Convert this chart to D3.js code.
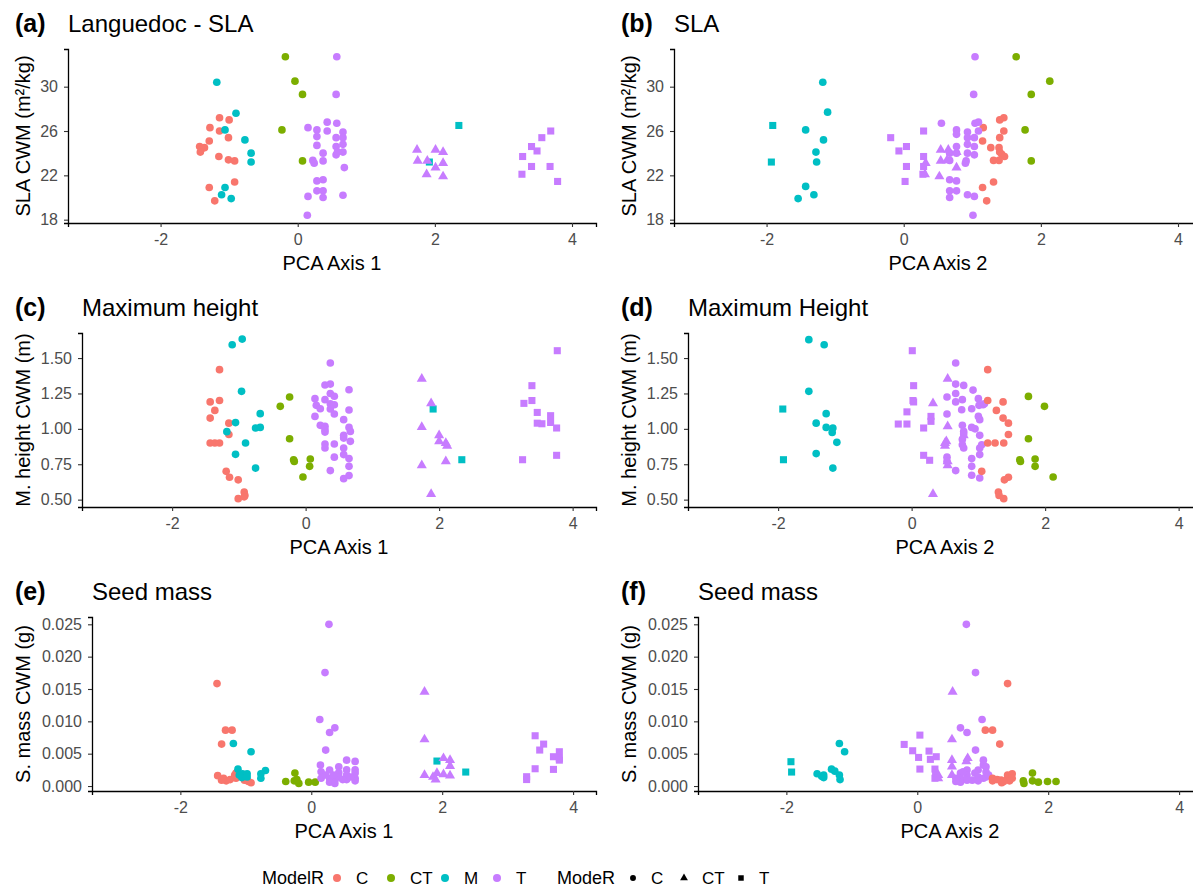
<!DOCTYPE html>
<html><head><meta charset="utf-8">
<script src="https://cdn.jsdelivr.net/npm/d3@7"></script>
<style>body{margin:0;background:#fff} svg{display:block} text{font-family:"Liberation Sans",Arial,sans-serif}</style>
</head><body><svg id="c" width="1193" height="892"></svg>
<script>
const modelRCats = ["C","CT","M","T"];
const modeRCats = ["C","CT","T"];
const xTicks = [-2,0,2,4];
const slaTicks = [18,22,26,30];
const htTicks = [0.50,0.75,1.00,1.25,1.50];
const smTicks = [0.000,0.005,0.010,0.015,0.020,0.025];

// [PCA value, trait value, ModelR, ModeR]
const slaPc1 = [
[-1.14,27.2,"C","C"],[-1.0,27.0,"C","C"],[-1.28,26.3,"C","C"],[-1.14,26.0,"C","C"],[-1.01,25.4,"C","C"],[-1.29,25.1,"C","C"],[-1.43,24.6,"C","C"],[-1.40,24.4,"C","C"],[-1.36,24.5,"C","C"],[-1.42,24.1,"C","C"],[-1.15,23.7,"C","C"],[-1.01,23.4,"C","C"],[-0.92,23.3,"C","C"],[-1.29,20.9,"C","C"],[-0.92,21.4,"C","C"],[-1.21,19.7,"C","C"],
[-1.18,30.4,"M","C"],[-1.06,26.1,"M","C"],[-0.90,27.6,"M","C"],[-0.77,25.2,"M","C"],[-0.68,24.0,"M","C"],[-0.68,23.2,"M","C"],[-1.06,20.9,"M","C"],[-1.11,20.25,"M","C"],[-0.97,19.9,"M","C"],
[1.92,23.2,"M","T"],[2.35,26.5,"M","T"],
[-0.18,32.7,"CT","C"],[-0.04,30.5,"CT","C"],[0.07,29.3,"CT","C"],[-0.23,26.1,"CT","C"],[0.07,23.3,"CT","C"],
[0.57,32.7,"T","C"],[0.56,29.3,"T","C"],[0.15,26.3,"T","C"],[0.43,26.8,"T","C"],[0.57,26.7,"T","C"],[0.28,26.1,"T","C"],[0.28,25.5,"T","C"],[0.43,26.0,"T","C"],[0.66,25.9,"T","C"],[0.56,25.4,"T","C"],[0.66,25.4,"T","C"],[0.28,24.7,"T","C"],[0.56,24.6,"T","C"],[0.66,24.8,"T","C"],[0.37,24.0,"T","C"],[0.56,23.85,"T","C"],[0.66,24.1,"T","C"],[0.58,24.1,"T","C"],[0.22,23.35,"T","C"],[0.37,23.3,"T","C"],[0.24,23.1,"T","C"],[0.68,22.7,"T","C"],[0.28,21.5,"T","C"],[0.37,21.6,"T","C"],[0.28,20.6,"T","C"],[0.37,20.6,"T","C"],[0.15,20.1,"T","C"],[0.37,20.0,"T","C"],[0.66,20.2,"T","C"],[0.14,18.4,"T","C"],
[1.74,24.3,"T","CT"],[2.01,24.3,"T","CT"],[2.12,24.1,"T","CT"],[1.75,23.3,"T","CT"],[1.89,23.3,"T","CT"],[2.12,23.1,"T","CT"],[2.01,22.7,"T","CT"],[1.88,22.1,"T","CT"],[2.12,21.9,"T","CT"],
[3.69,26.0,"T","T"],[3.56,25.4,"T","T"],[3.41,24.6,"T","T"],[3.49,24.2,"T","T"],[3.28,23.7,"T","T"],[3.41,22.8,"T","T"],[3.68,22.8,"T","T"],[3.27,22.1,"T","T"],[3.79,21.45,"T","T"]
];

const slaPc2 = [
[-1.91,26.5,"M","T"],[-1.93,23.2,"M","T"],
[-1.18,30.4,"M","C"],[-1.11,27.7,"M","C"],[-1.43,26.1,"M","C"],[-1.17,25.2,"M","C"],[-1.28,24.1,"M","C"],[-1.27,23.2,"M","C"],[-1.43,21.0,"M","C"],[-1.31,20.25,"M","C"],[-1.54,19.9,"M","C"],
[1.64,32.7,"CT","C"],[2.13,30.5,"CT","C"],[1.86,29.3,"CT","C"],[1.77,26.1,"CT","C"],[1.86,23.3,"CT","C"],
[1.46,27.2,"C","C"],[1.40,27.0,"C","C"],[1.16,26.3,"C","C"],[1.46,26.0,"C","C"],[1.40,25.4,"C","C"],[1.15,25.1,"C","C"],[1.27,24.5,"C","C"],[1.39,24.5,"C","C"],[1.40,24.1,"C","C"],[1.43,23.9,"C","C"],[1.47,23.7,"C","C"],[1.31,23.35,"C","C"],[1.39,23.35,"C","C"],[1.31,21.4,"C","C"],[1.15,20.9,"C","C"],[1.21,19.7,"C","C"],
[1.04,32.7,"T","C"],[1.02,29.3,"T","C"],[0.55,26.7,"T","C"],[1.04,26.7,"T","C"],[1.09,26.8,"T","C"],[0.77,26.1,"T","C"],[0.77,25.7,"T","C"],[0.93,25.9,"T","C"],[1.09,26.0,"T","C"],[1.03,25.4,"T","C"],[0.93,25.4,"T","C"],[0.77,24.6,"T","C"],[0.93,24.8,"T","C"],[1.03,24.6,"T","C"],[0.77,24.0,"T","C"],[0.67,24.0,"T","C"],[0.93,24.0,"T","C"],[1.03,23.85,"T","C"],[0.67,23.35,"T","C"],[0.91,23.3,"T","C"],[0.90,23.1,"T","C"],[0.67,21.6,"T","C"],[0.77,21.5,"T","C"],[0.67,20.6,"T","C"],[0.77,20.6,"T","C"],[0.67,20.0,"T","C"],[0.93,20.25,"T","C"],[1.03,20.1,"T","C"],[1.01,18.4,"T","C"],
[0.54,24.3,"T","CT"],[0.65,24.3,"T","CT"],[0.77,24.1,"T","CT"],[0.54,23.3,"T","CT"],[0.63,23.35,"T","CT"],[0.32,23.1,"T","CT"],[0.77,22.7,"T","CT"],[0.31,22.1,"T","CT"],[0.52,21.9,"T","CT"],
[0.29,26.0,"T","T"],[-0.19,25.4,"T","T"],[0.04,24.6,"T","T"],[-0.07,24.2,"T","T"],[0.29,23.7,"T","T"],[0.04,22.8,"T","T"],[0.29,22.8,"T","T"],[0.28,22.1,"T","T"],[0.02,21.45,"T","T"]
];

const htPc1 = [
[-1.29,1.418,"C","C"],[-1.43,1.19,"C","C"],[-1.29,1.20,"C","C"],[-1.36,1.13,"C","C"],[-1.43,1.076,"C","C"],[-1.15,1.04,"C","C"],[-1.15,0.96,"C","C"],[-1.43,0.90,"C","C"],[-1.36,0.90,"C","C"],[-1.29,0.90,"C","C"],[-1.19,0.70,"C","C"],[-1.14,0.658,"C","C"],[-1.01,0.64,"C","C"],[-0.92,0.554,"C","C"],[-0.91,0.53,"C","C"],[-1.01,0.507,"C","C"],[-0.92,0.52,"C","C"],
[-0.95,1.634,"M","C"],[-1.10,1.594,"M","C"],[-0.96,1.265,"M","C"],[-0.68,1.107,"M","C"],[-1.05,1.044,"M","C"],[-1.18,0.98,"M","C"],[-0.75,1.006,"M","C"],[-0.68,1.01,"M","C"],[-0.90,0.90,"M","C"],[-1.05,0.82,"M","C"],[-0.75,0.723,"M","C"],
[1.91,1.14,"M","T"],[2.34,0.782,"M","T"],
[-0.24,1.225,"CT","C"],[-0.38,1.159,"CT","C"],[-0.24,0.93,"CT","C"],[-0.18,0.782,"CT","C"],[-0.17,0.77,"CT","C"],[0.07,0.787,"CT","C"],[0.06,0.735,"CT","C"],[-0.04,0.66,"CT","C"],
[0.37,1.465,"T","C"],[0.29,1.31,"T","C"],[0.37,1.316,"T","C"],[0.65,1.276,"T","C"],[0.14,1.213,"T","C"],[0.29,1.206,"T","C"],[0.37,1.25,"T","C"],[0.43,1.23,"T","C"],[0.16,1.166,"T","C"],[0.22,1.142,"T","C"],[0.37,1.177,"T","C"],[0.43,1.17,"T","C"],[0.37,1.14,"T","C"],[0.65,1.133,"T","C"],[0.14,1.088,"T","C"],[0.43,1.105,"T","C"],[0.57,1.065,"T","C"],[0.22,1.025,"T","C"],[0.29,1.018,"T","C"],[0.65,1.01,"T","C"],[0.29,0.994,"T","C"],[0.67,0.982,"T","C"],[0.29,0.977,"T","C"],[0.57,0.954,"T","C"],[0.57,0.935,"T","C"],[0.67,0.912,"T","C"],[0.29,0.893,"T","C"],[0.43,0.893,"T","C"],[0.29,0.865,"T","C"],[0.57,0.865,"T","C"],[0.57,0.818,"T","C"],[0.43,0.80,"T","C"],[0.65,0.79,"T","C"],[0.65,0.735,"T","C"],[0.37,0.705,"T","C"],[0.65,0.67,"T","C"],[0.57,0.648,"T","C"],
[1.74,1.354,"T","CT"],[1.88,1.18,"T","CT"],[1.74,1.013,"T","CT"],[2.00,0.954,"T","CT"],[2.00,0.912,"T","CT"],[2.10,0.90,"T","CT"],[2.12,0.88,"T","CT"],[2.10,0.77,"T","CT"],[1.74,0.742,"T","CT"],[1.88,0.54,"T","CT"],
[3.77,1.552,"T","T"],[3.39,1.305,"T","T"],[3.39,1.20,"T","T"],[3.27,1.18,"T","T"],[3.47,1.116,"T","T"],[3.47,1.04,"T","T"],[3.54,1.036,"T","T"],[3.67,1.093,"T","T"],[3.67,1.045,"T","T"],[3.76,1.006,"T","T"],[3.25,0.782,"T","T"],[3.76,0.813,"T","T"]
];

const htPc2 = [
[-1.93,1.14,"M","T"],[-1.92,0.782,"M","T"],
[-1.54,1.63,"M","C"],[-1.31,1.594,"M","C"],[-1.54,1.265,"M","C"],[-1.28,1.107,"M","C"],[-1.43,1.04,"M","C"],[-1.28,1.01,"M","C"],[-1.18,1.006,"M","C"],[-1.19,0.975,"M","C"],[-1.12,0.905,"M","C"],[-1.43,0.825,"M","C"],[-1.18,0.723,"M","C"],
[0.01,1.552,"T","T"],[0.03,1.305,"T","T"],[0.02,1.20,"T","T"],[0.03,1.19,"T","T"],[-0.07,1.12,"T","T"],[-0.20,1.034,"T","T"],[-0.07,1.034,"T","T"],[0.18,1.006,"T","T"],[0.29,1.088,"T","T"],[0.29,1.053,"T","T"],[0.18,0.813,"T","T"],[0.27,0.778,"T","T"],
[0.54,1.354,"T","CT"],[0.32,1.18,"T","CT"],[0.54,1.018,"T","CT"],[0.78,0.954,"T","CT"],[0.52,0.912,"T","CT"],[0.50,0.90,"T","CT"],[0.50,0.88,"T","CT"],[0.54,0.77,"T","CT"],[0.54,0.742,"T","CT"],[0.32,0.54,"T","CT"],
[0.66,1.465,"T","C"],[0.66,1.316,"T","C"],[0.78,1.307,"T","C"],[0.92,1.274,"T","C"],[0.53,1.225,"T","C"],[0.66,1.25,"T","C"],[0.76,1.206,"T","C"],[0.66,1.19,"T","C"],[1.0,1.213,"T","C"],[1.07,1.17,"T","C"],[1.01,1.166,"T","C"],[1.09,1.177,"T","C"],[0.90,1.142,"T","C"],[0.75,1.135,"T","C"],[0.53,1.105,"T","C"],[1.0,1.088,"T","C"],[1.02,1.065,"T","C"],[0.76,1.025,"T","C"],[0.90,1.01,"T","C"],[0.95,1.0,"T","C"],[0.78,0.982,"T","C"],[0.78,0.964,"T","C"],[1.02,0.954,"T","C"],[0.76,0.924,"T","C"],[0.76,0.888,"T","C"],[1.05,0.888,"T","C"],[0.78,0.865,"T","C"],[1.02,0.865,"T","C"],[0.53,0.80,"T","C"],[0.90,0.79,"T","C"],[1.02,0.818,"T","C"],[0.53,0.77,"T","C"],[0.90,0.735,"T","C"],[0.66,0.705,"T","C"],[0.90,0.672,"T","C"],[1.02,0.653,"T","C"],
[1.14,1.418,"C","C"],[1.37,1.19,"C","C"],[1.14,1.20,"C","C"],[1.27,1.13,"C","C"],[1.37,1.076,"C","C"],[1.45,1.04,"C","C"],[1.45,0.96,"C","C"],[1.14,0.90,"C","C"],[1.25,0.90,"C","C"],[1.38,0.90,"C","C"],[1.05,0.70,"C","C"],[1.39,0.64,"C","C"],[1.45,0.658,"C","C"],[1.30,0.554,"C","C"],[1.31,0.53,"C","C"],[1.38,0.507,"C","C"],
[1.75,1.229,"CT","C"],[1.99,1.159,"CT","C"],[1.75,0.93,"CT","C"],[1.62,0.782,"CT","C"],[1.63,0.77,"CT","C"],[1.85,0.787,"CT","C"],[1.85,0.735,"CT","C"],[2.12,0.66,"CT","C"]
];

const smPc1 = [
[-1.44,0.01584,"C","C"],[-1.31,0.00864,"C","C"],[-1.21,0.00864,"C","C"],[-1.37,0.00648,"C","C"],[-1.43,0.0016,"C","C"],[-1.34,0.0012,"C","C"],[-1.30,0.0008,"C","C"],[-1.37,0.0009,"C","C"],[-1.15,0.0020,"C","C"],[-1.15,0.0012,"C","C"],[-1.02,0.0009,"C","C"],[-0.96,0.0007,"C","C"],[-0.92,0.0005,"C","C"],[-1.05,0.0013,"C","C"],[-1.24,0.0010,"C","C"],[-1.17,0.0017,"C","C"],
[-1.19,0.00658,"M","C"],[-0.92,0.0053,"M","C"],[-1.12,0.0026,"M","C"],[-1.05,0.0019,"M","C"],[-0.98,0.0019,"M","C"],[-1.06,0.0013,"M","C"],[-0.77,0.0019,"M","C"],[-0.70,0.0024,"M","C"],[-0.77,0.0012,"M","C"],[-0.98,0.0014,"M","C"],[-1.10,0.0017,"M","C"],
[1.92,0.00386,"M","T"],[2.36,0.00216,"M","T"],
[-0.39,0.0007,"CT","C"],[-0.25,0.0020,"CT","C"],[-0.26,0.0008,"CT","C"],[-0.19,0.0004,"CT","C"],[-0.04,0.0006,"CT","C"],[0.06,0.0006,"CT","C"],[-0.22,0.0010,"CT","C"],
[0.27,0.025,"T","C"],[0.21,0.01754,"T","C"],[0.13,0.01029,"T","C"],[0.36,0.0090,"T","C"],[0.28,0.00828,"T","C"],[0.22,0.00556,"T","C"],[0.14,0.00324,"T","C"],[0.15,0.00221,"T","C"],[0.28,0.00247,"T","C"],[0.42,0.00298,"T","C"],[0.42,0.00206,"T","C"],[0.54,0.0040,"T","C"],[0.67,0.0038,"T","C"],[0.28,0.0012,"T","C"],[0.36,0.0009,"T","C"],[0.28,0.0006,"T","C"],[0.36,0.0004,"T","C"],[0.54,0.0025,"T","C"],[0.54,0.0017,"T","C"],[0.54,0.0010,"T","C"],[0.67,0.0025,"T","C"],[0.67,0.0020,"T","C"],[0.67,0.0012,"T","C"],[0.67,0.0008,"T","C"],[0.60,0.0014,"T","C"],[0.42,0.0014,"T","C"],[0.48,0.0010,"T","C"],[0.15,0.0012,"T","C"],[0.22,0.0017,"T","C"],[0.34,0.0017,"T","C"],
[1.73,0.01456,"T","CT"],[1.73,0.0072,"T","CT"],[1.73,0.0017,"T","CT"],[1.86,0.0014,"T","CT"],[1.92,0.0020,"T","CT"],[1.90,0.0010,"T","CT"],[2.02,0.0018,"T","CT"],[2.02,0.0043,"T","CT"],[2.12,0.0040,"T","CT"],[2.12,0.0031,"T","CT"],[2.12,0.0016,"T","CT"],
[3.42,0.00777,"T","T"],[3.55,0.00648,"T","T"],[3.49,0.00556,"T","T"],[3.79,0.0053,"T","T"],[3.79,0.00427,"T","T"],[3.70,0.00453,"T","T"],[3.42,0.00267,"T","T"],[3.70,0.00257,"T","T"],[3.29,0.00144,"T","T"],[3.29,0.0010,"T","T"],[3.79,0.0040,"T","T"]
];

const smPc2 = [
[-1.93,0.00376,"M","T"],[-1.92,0.00216,"M","T"],
[-1.19,0.00658,"M","C"],[-1.11,0.0053,"M","C"],[-1.53,0.0019,"M","C"],[-1.43,0.0017,"M","C"],[-1.43,0.0013,"M","C"],[-1.31,0.0026,"M","C"],[-1.26,0.0023,"M","C"],[-1.19,0.0017,"M","C"],[-1.18,0.0010,"M","C"],[-1.46,0.0015,"M","C"],
[0.04,0.00787,"T","T"],[-0.20,0.00643,"T","T"],[-0.07,0.00545,"T","T"],[0.02,0.00442,"T","T"],[0.04,0.00262,"T","T"],[0.18,0.0054,"T","T"],[0.20,0.00412,"T","T"],[0.29,0.00453,"T","T"],[0.27,0.00262,"T","T"],[0.28,0.0017,"T","T"],[0.27,0.0012,"T","T"],
[0.54,0.01456,"T","CT"],[0.53,0.0072,"T","CT"],[0.53,0.0040,"T","CT"],[0.53,0.0030,"T","CT"],[0.77,0.0043,"T","CT"],[0.75,0.0038,"T","CT"],[0.53,0.0017,"T","CT"],[0.32,0.0017,"T","CT"],[0.32,0.0012,"T","CT"],
[0.75,0.025,"T","C"],[0.89,0.01754,"T","C"],[0.99,0.01029,"T","C"],[0.66,0.0090,"T","C"],[0.76,0.00828,"T","C"],[0.89,0.00556,"T","C"],[1.01,0.0040,"T","C"],[1.01,0.00324,"T","C"],[0.93,0.00247,"T","C"],[1.05,0.00298,"T","C"],[0.76,0.00247,"T","C"],[0.66,0.0020,"T","C"],[0.76,0.0017,"T","C"],[0.66,0.0012,"T","C"],[0.66,0.0006,"T","C"],[0.76,0.0009,"T","C"],[0.88,0.0020,"T","C"],[0.93,0.0014,"T","C"],[0.93,0.0008,"T","C"],[1.01,0.0012,"T","C"],[1.05,0.0022,"T","C"],[1.05,0.0014,"T","C"],[1.09,0.0017,"T","C"],[0.84,0.0009,"T","C"],[0.59,0.0012,"T","C"],[0.59,0.0007,"T","C"],[0.70,0.0022,"T","C"],
[1.38,0.01584,"C","C"],[1.04,0.00864,"C","C"],[1.15,0.00864,"C","C"],[1.26,0.00648,"C","C"],[1.15,0.0012,"C","C"],[1.15,0.0008,"C","C"],[1.29,0.0005,"C","C"],[1.28,0.0009,"C","C"],[1.38,0.0012,"C","C"],[1.38,0.0017,"C","C"],[1.45,0.0019,"C","C"],[1.45,0.0012,"C","C"],[1.41,0.0008,"C","C"],[1.22,0.0010,"C","C"],[1.32,0.0007,"C","C"],
[1.62,0.0008,"CT","C"],[1.63,0.0004,"CT","C"],[1.76,0.0020,"CT","C"],[1.76,0.0008,"CT","C"],[1.85,0.0006,"CT","C"],[1.99,0.0007,"CT","C"],[2.12,0.0007,"CT","C"]
];

const colorScale = d3.scaleOrdinal().domain(modelRCats).range(["#F8766D","#7CAE00","#00BFC4","#C77CFF"]);
const shapeScale = d3.scaleOrdinal().domain(modeRCats).range([d3.symbolCircle, d3.symbolTriangle, d3.symbolSquare]);
const sizeScale = d3.scaleOrdinal().domain(modeRCats).range([46, 44, 50]);

const svg = d3.select("#c");
const FONT = '"Liberation Sans",Arial,sans-serif';
const hyphenFmt = f => (d => f(d).replace("\u2212","-"));

const panels = [
 {data:slaPc1, tag:"(a)", title:"Languedoc - SLA", ylab:"SLA CWM (m\u00B2/kg)", xlab:"PCA Axis 1", yd:[17.7,33.4], yt:slaTicks, fmt:d3.format("d"), x0:68, top:49, bottom:223, col:0},
 {data:slaPc2, tag:"(b)", title:"SLA", ylab:"SLA CWM (m\u00B2/kg)", xlab:"PCA Axis 2", yd:[17.7,33.4], yt:slaTicks, fmt:d3.format("d"), x0:674, top:49, bottom:223, col:1},
 {data:htPc1, tag:"(c)", title:"Maximum height", ylab:"M. height CWM (m)", xlab:"PCA Axis 1", yd:[0.448,1.677], yt:htTicks, fmt:d3.format(".2f"), x0:82, top:333, bottom:507, col:0},
 {data:htPc2, tag:"(d)", title:"Maximum Height", ylab:"M. height CWM (m)", xlab:"PCA Axis 2", yd:[0.448,1.677], yt:htTicks, fmt:d3.format(".2f"), x0:688, top:333, bottom:507, col:1},
 {data:smPc1, tag:"(e)", title:"Seed mass", ylab:"S. mass CWM (g)", xlab:"PCA Axis 1", yd:[-0.00077,0.02613], yt:smTicks, fmt:d3.format(".3f"), x0:92, top:617, bottom:791, col:0},
 {data:smPc2, tag:"(f)", title:"Seed mass", ylab:"S. mass CWM (g)", xlab:"PCA Axis 2", yd:[-0.00077,0.02613], yt:smTicks, fmt:d3.format(".3f"), x0:698, top:617, bottom:791, col:1}
];

panels.forEach(p => {
  const colOff = p.col * 606;
  const x1 = 596 + colOff;
  const x = d3.scaleLinear().domain([-3.35, 4.35]).range([p.x0, x1]);
  const y = d3.scaleLinear().domain(p.yd).range([p.bottom, p.top]);
  const g = svg.append("g");

  g.selectAll("path.pt").data(p.data).join("path")
    .attr("class","pt")
    .attr("transform", d => `translate(${x(d[0])},${y(d[1])})`)
    .attr("d", d => d3.symbol().type(shapeScale(d[3])).size(sizeScale(d[3]))())
    .attr("fill", d => colorScale(d[2]));

  const xa = g.append("g").attr("transform", `translate(0,${p.bottom})`)
    .call(d3.axisBottom(x).tickValues(xTicks).tickFormat(hyphenFmt(d3.format("d"))).tickSizeOuter(0).tickSize(4).tickPadding(7));
  const ya = g.append("g").attr("transform", `translate(${p.x0},0)`)
    .call(d3.axisLeft(y).tickValues(p.yt).tickFormat(p.fmt).tickSizeOuter(0).tickSize(4).tickPadding(6));
  [xa, ya].forEach(a => {
    a.select(".domain").attr("stroke","#000").attr("stroke-width",1.3);
    a.selectAll(".tick line").attr("stroke","#333").attr("stroke-width",1.1);
    a.selectAll(".tick text").attr("fill","#4D4D4D").style("font-size","16px").style("font-family",FONT);
  });

  g.append("text").attr("x",(p.x0+x1)/2).attr("y",p.bottom+47).attr("text-anchor","middle")
    .style("font-size","20px").attr("fill","#000").text(p.xlab);
  const ylx = 23 + colOff;
  g.append("text").attr("transform",`translate(${ylx},${(p.top+p.bottom)/2}) rotate(-90)`)
    .attr("text-anchor","middle").attr("dy","0.35em").style("font-size","20px").attr("fill","#000").text(p.ylab);

  g.append("text").attr("x",15+colOff).attr("y",p.top-17).style("font-size","25px").style("font-weight","bold").attr("fill","#000").text(p.tag);
  g.append("text").attr("x",p.x0).attr("y",p.top-17).style("font-size","24px").attr("fill","#000").text(p.title);
});

// legend
const lg = svg.append("g");
const ly = 878;
lg.append("text").attr("x",262).attr("y",ly).attr("dy","0.35em").style("font-size","18px").text("ModelR");
const colX = [337, 391, 445, 497];
modelRCats.forEach((c,i) => {
  lg.append("circle").attr("cx",colX[i]).attr("cy",ly).attr("r",4).attr("fill",colorScale(c));
  lg.append("text").attr("x",colX[i]+19).attr("y",ly).attr("dy","0.35em").style("font-size","17px").attr("fill","#000").text(c);
});
lg.append("text").attr("x",557).attr("y",ly).attr("dy","0.35em").style("font-size","18px").text("ModeR");
const shpX = [633, 684, 741];
modeRCats.forEach((c,i) => {
  lg.append("path").attr("transform",`translate(${shpX[i]},${ly})`)
    .attr("d", d3.symbol().type(shapeScale(c)).size(sizeScale(c)*0.6)()).attr("fill","#000");
  lg.append("text").attr("x",shpX[i]+18).attr("y",ly).attr("dy","0.35em").style("font-size","17px").attr("fill","#000").text(c);
});
</script></body></html>
